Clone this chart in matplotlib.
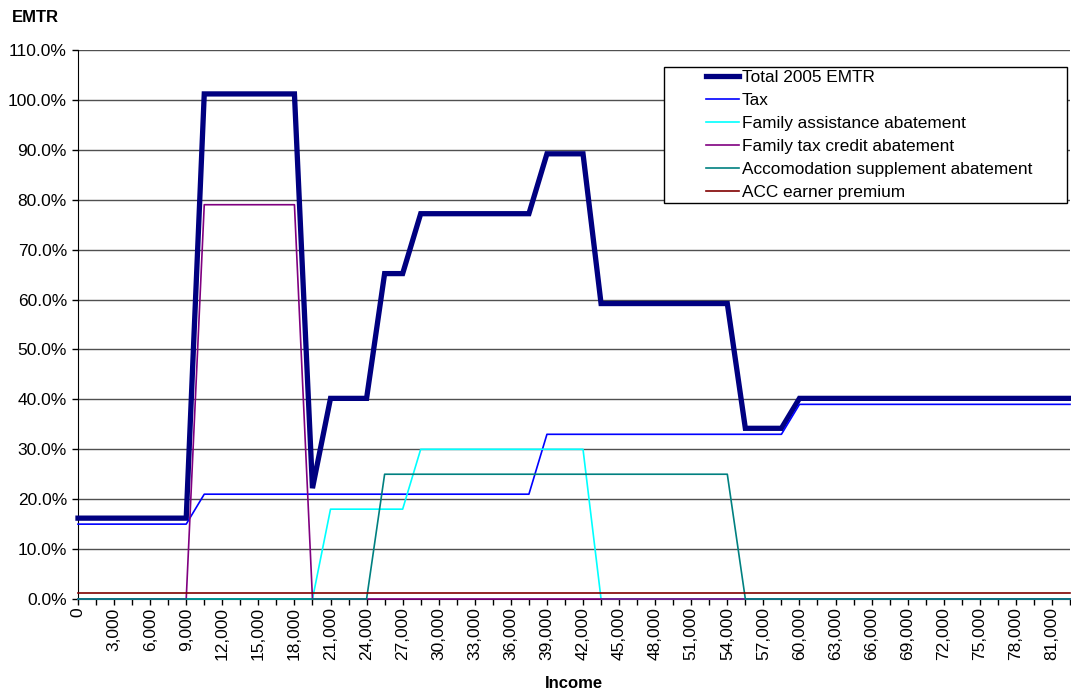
import numpy as np
import matplotlib
matplotlib.use("Agg")
import matplotlib.pyplot as plt
from matplotlib.patches import Rectangle

plt.rcParams['font.family'] = ['Liberation Sans', 'DejaVu Sans']

# income categories, every 1,500 (0 .. 82,500)
income = list(range(0, 84000, 1500))

# rates in percent, written as runs of equal values along the income categories
total = ([16.2] * 7 + [101.2] * 6 + [22.2] + [40.2] * 3 + [65.2] * 2 + [77.2] * 7
         + [89.2] * 3 + [59.2] * 8 + [34.2] * 3 + [40.2] * 16)
tax = [15] * 7 + [21] * 19 + [33] * 14 + [39] * 16
fam_assist = [0] * 14 + [18] * 5 + [30] * 10 + [0] * 27
ftc = [0] * 7 + [79] * 6 + [0] * 43
accom = [0] * 17 + [25] * 20 + [0] * 19
acc = [1.2] * 56

series = [
    ("Total 2005 EMTR", total, "#000080", 3.8),
    ("Tax", tax, "#0000FF", 1.2),
    ("Family assistance abatement", fam_assist, "#00FFFF", 1.2),
    ("Family tax credit abatement", ftc, "#800080", 1.2),
    ("Accomodation supplement abatement", accom, "#008080", 1.2),
    ("ACC earner premium", acc, "#800000", 1.2),
]

fig = plt.figure(figsize=(10.71, 6.93), dpi=100)
ax = fig.add_axes([78 / 1071, 1 - 599 / 693, (1070 - 78) / 1071, (599 - 50) / 693])

x = np.arange(len(income))
for name, vals, col, lw in series:
    ax.plot(x, vals, color=col, lw=lw, label=name, clip_on=False,
            solid_joinstyle='miter' if lw > 2 else 'round', zorder=3)

ax.set_xlim(0, len(income) - 1)
ax.set_ylim(0, 110)
ax.set_yticks(np.arange(0, 111, 10))
ax.set_yticklabels([f"{v:.1f}%" for v in np.arange(0, 111, 10)], fontsize=12.5)
ax.yaxis.grid(True, color='#505050', lw=1)
ax.set_axisbelow(True)

ax.set_xticks(x)
ax.set_xticklabels([f"{v:,}" if i % 2 == 0 else "" for i, v in enumerate(income)],
                   rotation=90, fontsize=12.5)
ax.tick_params(axis='x', direction='out', length=4, width=1, color='black', pad=2)
ax.tick_params(axis='y', direction='out', length=4, width=1, color='black', pad=4)

for s in ['top', 'right']:
    ax.spines[s].set_visible(False)
ax.spines['left'].set_color('black')
ax.spines['bottom'].set_color('black')

fig.text(12 / 1071, 1 - 17 / 693, "EMTR", fontsize=12, fontweight='bold', va='center')
fig.text(574 / 1071, 1 - 683 / 693, "Income", fontsize=12, fontweight='bold',
         ha='center', va='center')

# legend box
box = Rectangle((664 / 1071, 1 - 203 / 693), (1067 - 664) / 1071, (203 - 67) / 693,
                transform=fig.transFigure, facecolor='white', edgecolor='black',
                lw=1, zorder=4, clip_on=False)
ax.add_patch(box)
leg = ax.legend(loc='upper left', bbox_to_anchor=(703 / 1071, 1 - 67 / 693),
                bbox_transform=fig.transFigure, frameon=False, fontsize=12.4,
                handlelength=1.95, handletextpad=0.15, labelspacing=0.46,
                borderpad=0.15, borderaxespad=0)
leg.set_zorder(5)

fig.savefig("out.png", dpi=100)
